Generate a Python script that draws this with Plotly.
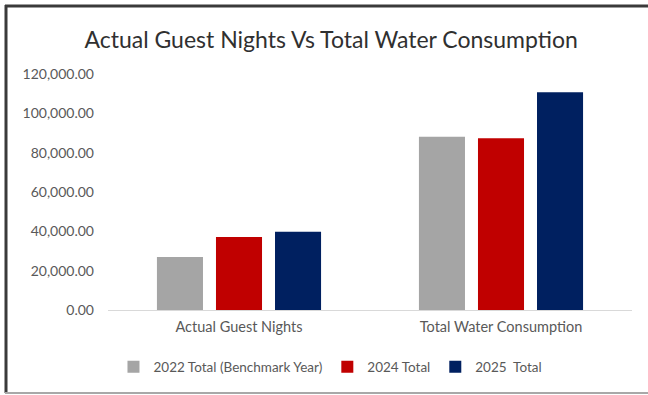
import plotly.graph_objects as go

# Chart data
categories = ["Actual Guest Nights", "Total Water Consumption"]
series_names = ["2022 Total (Benchmark Year)", "2024 Total", "2025\u00a0 Total"]
values_2022 = [27000, 88100]
values_2024 = [37100, 87300]
values_2025 = [39800, 110700]
series_colors = ["#a5a5a5", "#c00000", "#002060"]
y_ticks = [0, 20000, 40000, 60000, 80000, 100000, 120000]

W, H = 648, 395
ML, MR, MT, MB = 108, 16, 74, 85
PW, PH = W - ML - MR, H - MT - MB

fig = go.Figure()
for name, vals, col in zip(series_names, [values_2022, values_2024, values_2025], series_colors):
    fig.add_trace(go.Bar(x=categories, y=vals, name=name, marker=dict(color=col, line=dict(width=0))))


def px_x(x):
    return (x - ML) / PW


def px_y(y):
    return (H - MB - y) / PH


# frame around the chart (dark left/top edges, light bottom edge)
frame = [
    dict(x0=px_x(6), x1=px_x(6), y0=px_y(5), y1=px_y(393), color="#3a3a3a", width=3),
    dict(x0=px_x(5), x1=px_x(648), y0=px_y(6), y1=px_y(6), color="#3a3a3a", width=3),
    dict(x0=px_x(5), x1=px_x(648), y0=px_y(393), y1=px_y(393), color="#a8a8a8", width=2),
]
shapes = [
    dict(type="line", xref="paper", yref="paper", x0=s["x0"], x1=s["x1"], y0=s["y0"], y1=s["y1"],
         line=dict(color=s["color"], width=s["width"]), layer="above")
    for s in frame
]

fig.update_layout(
    width=W, height=H,
    margin=dict(l=ML, r=MR, t=MT, b=MB),
    paper_bgcolor="white", plot_bgcolor="white",
    font=dict(family="Lato, 'Open Sans', sans-serif", color="#595959", size=14),
    title=dict(text="Actual Guest Nights Vs Total Water Consumption",
               x=0.511, xanchor="center", y=1 - 40 / H, yanchor="middle",
               font=dict(size=23, color="#303030")),
    barmode="group", bargap=0.324, bargroupgap=0.22,
    showlegend=True,
    legend=dict(orientation="h", xref="container", x=0.51, xanchor="center",
                yref="container", y=1 - 367 / H, yanchor="middle",
                font=dict(size=13.5, color="#595959"), itemwidth=30,
                tracegroupgap=0, traceorder="normal"),
    shapes=shapes,
)
fig.update_xaxes(showgrid=False, showline=True, linecolor="#d9d9d9", linewidth=1,
                 ticks="", ticklabelstandoff=4, tickfont=dict(size=14.5, color="#595959"))
fig.update_yaxes(range=[0, 120000], tickvals=y_ticks, tickformat=",.2f",
                 showgrid=False, zeroline=False, showline=False, ticks="",
                 ticklabelstandoff=13, tickfont=dict(size=14, color="#595959"))

fig.write_html("out.html")
